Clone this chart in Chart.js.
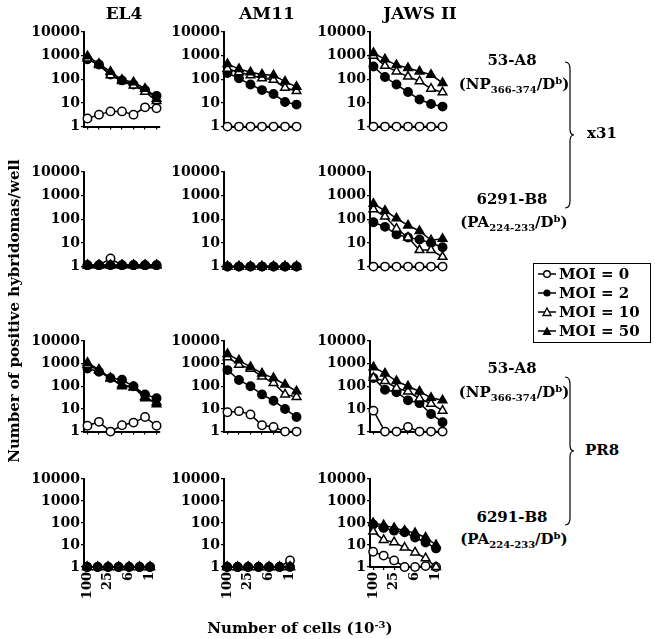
<!DOCTYPE html>
<html>
<head>
<meta charset="utf-8">
<script src="https://cdn.jsdelivr.net/npm/chart.js@4.4.1/dist/chart.umd.min.js"></script>
<style>
body { margin: 0; background: #fff; }
#page { position: relative; width: 655px; height: 639px; overflow: hidden;
        font-family: 'DejaVu Serif', serif; font-weight: bold; color: #000; }
#page canvas { position: absolute; }
.lbl { position: absolute; white-space: nowrap; transform: translate(-50%, -50%); font-size: 15px; line-height: 1; }
.lbl.title { font-size: 17px; }
.lbl sub, .lbl sup { font-size: 10px; }
.lbl sub { vertical-align: -4px; }
.lbl sup { vertical-align: 5px; }
#ytitle { transform: translate(-50%, -50%) rotate(-90deg); }
#legend { position: absolute; left: 533px; top: 263px; width: 112px; height: 77px;
          border: 1.5px solid #000; padding: 1px 0 0 4px; box-sizing: content-box; }
#legend div { height: 19px; line-height: 19px; font-size: 15px; white-space: nowrap; }
#legend svg { vertical-align: middle; margin-right: 3px; position: relative; top: -1px; }
</style>
</head>
<body>
<div id="page"></div>
<script>
// x axis: number of cells (x10^-3), only every other label is printed
const xLabels = ['100', '50', '25', '12', '6', '3', '1'];
const yTicks = [1, 10, 100, 1000, 10000];
const cellLines = ['EL4', 'AM11', 'JAWS II'];
const moiLabels = ['MOI = 0', 'MOI = 2', 'MOI = 10', 'MOI = 50'];

// x31 virus, 53-A8 hybridoma (NP366-374/Db)
const x31NP_EL4  = { moi0: [2.2, 3.2, 4.4, 4.4, 3.2, 6.5, 5.9], moi2: [700, 420, 160, 90, 60, 35, 20], moi10: [750, 400, 150, 85, 55, 30, 12], moi50: [950, 450, 210, 95, 75, 40, 15] };
const x31NP_AM11 = { moi0: [1, 1, 1, 1, 1, 1, 1], moi2: [185, 110, 60, 35, 24, 11, 8.5], moi10: [280, 200, 150, 110, 95, 44, 32], moi50: [440, 275, 200, 160, 150, 80, 48] };
const x31NP_JAWS = { moi0: [1, 1, 1, 1, 1, 1, 1], moi2: [350, 125, 60, 29, 14, 9, 7], moi10: [1000, 370, 215, 130, 83, 40, 28], moi50: [1300, 700, 400, 300, 215, 155, 70] };

// x31 virus, 6291-B8 hybridoma (PA224-233/Db)
const x31PA_EL4  = { moi0: [1.15, 1.15, 2.2, 1.15, 1.15, 1.15, 1.15], moi2: [1.15, 1.15, 1.15, 1.15, 1.15, 1.15, 1.15], moi10: [1.15, 1.15, 1.15, 1.15, 1.15, 1.15, 1.15], moi50: [1.15, 1.15, 1.15, 1.15, 1.15, 1.15, 1.15] };
const x31PA_AM11 = { moi0: [1, 1, 1, 1, 1, 1, 1], moi2: [1, 1, 1, 1, 1, 1, 1], moi10: [1, 1, 1, 1, 1, 1, 1], moi50: [1, 1, 1, 1, 1, 1, 1] };
const x31PA_JAWS = { moi0: [1, 1, 1, 1, 1, 1, 1], moi2: [75, 48, 23, 17, 14, 10, 6.6], moi10: [265, 130, 40, 17, 5, 5, 2.6], moi50: [450, 230, 110, 55, 32, 13, 15] };

// PR8 virus, 53-A8 hybridoma
const pr8NP_EL4  = { moi0: [1.8, 2.7, 1, 1.9, 2.5, 4.4, 1.8], moi2: [610, 440, 230, 195, 100, 44, 30], moi10: [900, 500, 220, 120, 90, 30, 20], moi50: [1100, 550, 230, 100, 90, 35, 16] };
const pr8NP_AM11 = { moi0: [7.2, 8, 5.7, 1.9, 1.6, 1, 1], moi2: [520, 190, 100, 44, 23, 10, 4.4], moi10: [1900, 900, 600, 270, 140, 44, 34], moi50: [2700, 1400, 720, 370, 230, 120, 60] };
const pr8NP_JAWS = { moi0: [8.4, 1, 1, 1.6, 1, 1, 1], moi2: [230, 70, 55, 24, 18, 6, 2.6], moi10: [240, 170, 84, 59, 29, 17, 8.4], moi50: [700, 370, 170, 100, 59, 31, 24] };

// PR8 virus, 6291-B8 hybridoma
const pr8PA_EL4  = { moi0: [1, 1, 1, 1, 1, 1, 1], moi2: [1, 1, 1, 1, 1, 1, 1], moi10: [1, 1, 1, 1, 1, 1, 1], moi50: [1, 1, 1, 1, 1, 1, 1] };
const pr8PA_AM11 = { moi0: [1, 1, 1, 1, 1, 1, 2], moi2: [1, 1, 1, 1, 1, 1, 1], moi10: [1, 1, 1, 1, 1, 1, 1], moi50: [1, 1, 1, 1, 1, 1, 1] };
const pr8PA_JAWS = { moi0: [4.9, 3.3, 2, 1, 1, 1.1, 1], moi2: [85, 60, 45, 38, 22, 13, 7], moi10: [41, 17, 13.5, 7.6, 4.6, 2.5, 1], moi50: [100, 80, 60, 45, 35, 22, 10] };

const panels = [
    [x31NP_EL4, x31NP_AM11, x31NP_JAWS],
    [x31PA_EL4, x31PA_AM11, x31PA_JAWS],
    [pr8NP_EL4, pr8NP_AM11, pr8NP_JAWS],
    [pr8PA_EL4, pr8PA_AM11, pr8PA_JAWS]
];

const FONT = "'DejaVu Serif', serif";
const colAxisX = [84, 224, 370];
const rowTop = [32, 172, 341, 479];
const rowBottom = [128, 268, 433, 567];
const plotW = 76;
const yAxisW = 62;
const padTop = 10;
const padRight = 8;

const seriesStyle = [
    { key: 'moi0', pointStyle: 'circle', fill: '#fff', radius: 4.2 },
    { key: 'moi2', pointStyle: 'circle', fill: '#000', radius: 4.2 },
    { key: 'moi10', pointStyle: 'triangle', fill: '#fff', radius: 5 },
    { key: 'moi50', pointStyle: 'triangle', fill: '#000', radius: 5 }
];

const page = document.getElementById('page');

function addLabel(html, x, y, id, cls)
{
    const d = document.createElement('div');
    d.className = 'lbl' + (cls ? ' ' + cls : '');
    if (id) d.id = id;
    d.innerHTML = html;
    d.style.left = x + 'px';
    d.style.top = y + 'px';
    page.appendChild(d);
}

panels.forEach((row, r) =>
{
    row.forEach((panel, c) =>
    {
        const lastRow = r === panels.length - 1;
        const xAxisH = lastRow ? 40 : 8;
        const canvas = document.createElement('canvas');
        const w = yAxisW + plotW + padRight;
        const h = padTop + (rowBottom[r] - rowTop[r]) + xAxisH;
        canvas.width = w;
        canvas.height = h;
        canvas.style.left = (colAxisX[c] - yAxisW) + 'px';
        canvas.style.top = (rowTop[r] - padTop) + 'px';
        canvas.style.width = w + 'px';
        canvas.style.height = h + 'px';
        page.appendChild(canvas);

        new Chart(canvas.getContext('2d'), {
            type: 'line',
            data: {
                datasets: seriesStyle.map((s, i) => ({
                    label: moiLabels[i],
                    data: panel[s.key].map((v, j) => ({ x: j, y: v })),
                    borderColor: '#000',
                    borderWidth: 1.5,
                    tension: 0,
                    pointStyle: s.pointStyle,
                    pointRadius: s.radius,
                    pointBackgroundColor: s.fill,
                    pointBorderColor: '#000',
                    pointBorderWidth: 1.5,
                    clip: false,
                    order: 3 - i
                }))
            },
            options: {
                responsive: false,
                animation: false,
                events: [],
                layout: { padding: { top: padTop, right: padRight, left: 0, bottom: 0 } },
                plugins: { legend: { display: false }, tooltip: { enabled: false } },
                scales: {
                    x: {
                        type: 'linear',
                        min: -0.3,
                        max: 6.3,
                        afterBuildTicks: (s) => { s.ticks = xLabels.map((_, i) => ({ value: i })); },
                        afterFit: (s) => { s.height = xAxisH; },
                        ticks: {
                            display: lastRow,
                            autoSkip: false,
                            minRotation: 90,
                            maxRotation: 90,
                            padding: 2,
                            color: '#000',
                            font: { family: FONT, size: 13, weight: 'bold' },
                            callback: (v) => (v % 2 === 0 ? xLabels[v] : '')
                        },
                        grid: { drawOnChartArea: false, color: '#000', lineWidth: 1.2, tickLength: 3 },
                        border: { color: '#000', width: 2 }
                    },
                    y: {
                        type: 'logarithmic',
                        min: 1,
                        max: 10000,
                        afterBuildTicks: (s) => { s.ticks = yTicks.map((v) => ({ value: v })); },
                        afterFit: (s) => { s.width = yAxisW; },
                        ticks: {
                            color: '#000',
                            padding: 1,
                            font: { family: FONT, size: 14, weight: 'bold' },
                            callback: (v) => String(v)
                        },
                        grid: { drawOnChartArea: false, color: '#000', lineWidth: 1.2, tickLength: 3 },
                        border: { color: '#000', width: 2 }
                    }
                }
            }
        });
    });
});

// column titles
addLabel(cellLines[0], 124, 13, null, 'title');
addLabel(cellLines[1], 267, 13, null, 'title');
addLabel(cellLines[2], 420, 13, null, 'title');

// hybridoma labels
const npText = '(NP<sub>366-374</sub>/D<sup>b</sup>)';
const paText = '(PA<sub>224-233</sub>/D<sup>b</sup>)';
addLabel('53-A8', 512, 60);
addLabel(npText, 514, 85);
addLabel('6291-B8', 512, 199);
addLabel(paText, 514, 223);
addLabel('53-A8', 512, 368);
addLabel(npText, 514, 393);
addLabel('6291-B8', 512, 517);
addLabel(paText, 514, 540);

addLabel('x31', 602, 133);
addLabel('PR8', 602, 450);

addLabel('Number of positive hybridomas/well', 14, 311, 'ytitle');
addLabel('Number of cells (10<sup>-3</sup>)', 300, 628);

// braces
const svgNS = 'http://www.w3.org/2000/svg';
const svg = document.createElementNS(svgNS, 'svg');
svg.setAttribute('width', 655);
svg.setAttribute('height', 639);
svg.style.position = 'absolute';
svg.style.left = '0';
svg.style.top = '0';
[[62, 208], [377, 525]].forEach(([y0, y1]) =>
{
    const m = (y0 + y1) / 2;
    const p = document.createElementNS(svgNS, 'path');
    p.setAttribute('d', `M565,${y0} Q570,${y0} 570,${y0 + 7} L570,${m - 6} Q570,${m} 574,${m} Q570,${m} 570,${m + 6} L570,${y1 - 7} Q570,${y1} 565,${y1}`);
    p.setAttribute('fill', 'none');
    p.setAttribute('stroke', '#000');
    p.setAttribute('stroke-width', '1.2');
    svg.appendChild(p);
});
page.appendChild(svg);

// legend
const legend = document.createElement('div');
legend.id = 'legend';
const markerSvg = [
    '<circle cx="9" cy="6" r="3.3" fill="#fff" stroke="#000" stroke-width="1.4"/>',
    '<circle cx="9" cy="6" r="3.6" fill="#000"/>',
    '<polygon points="9,2 13,9.5 5,9.5" fill="#fff" stroke="#000" stroke-width="1.3"/>',
    '<polygon points="9,1.5 13.5,10 4.5,10" fill="#000"/>'
];
moiLabels.forEach((t, i) =>
{
    const d = document.createElement('div');
    d.innerHTML = '<svg width="18" height="12"><line x1="0" y1="6" x2="18" y2="6" stroke="#000" stroke-width="1.5"/>' + markerSvg[i] + '</svg>' + t;
    legend.appendChild(d);
});
page.appendChild(legend);
</script>
</body>
</html>
